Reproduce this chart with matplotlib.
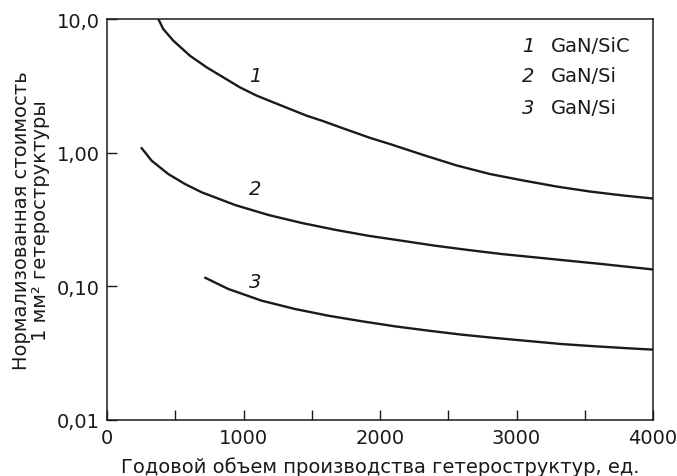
import matplotlib
matplotlib.use("Agg")
import matplotlib.pyplot as plt
from matplotlib.ticker import FixedLocator, NullLocator, FixedFormatter

plt.rcParams['font.family'] = ['DejaVu Sans']

# Curve 1: GaN/SiC
x1 = [376, 412, 486, 608, 730, 852, 974, 1097, 1218, 1341, 1463, 1585, 1707, 1829,
      1927, 2073, 2317, 2562, 2806, 3050, 3294, 3538, 3783, 4000]
y1 = [10.0, 8.42, 6.88, 5.31, 4.35, 3.66, 3.08, 2.67, 2.38, 2.12, 1.89, 1.72, 1.55, 1.40,
      1.29, 1.16, 0.961, 0.802, 0.692, 0.619, 0.558, 0.512, 0.478, 0.454]
# Curve 2: GaN/Si
x2 = [249, 327, 449, 571, 694, 938, 1182, 1426, 1670, 1914, 2159, 2403, 2647, 2892,
      3135, 3380, 3624, 4000]
y2 = [1.097, 0.871, 0.692, 0.583, 0.505, 0.406, 0.342, 0.298, 0.265, 0.239, 0.2195,
      0.2014, 0.187, 0.1744, 0.1648, 0.1555, 0.1469, 0.1337]
# Curve 3: GaN/Si
x3 = [713, 889, 1133, 1377, 1621, 1866, 2110, 2354, 2599, 2842, 3086, 3331, 3575,
      3819, 4000]
y3 = [0.1168, 0.0955, 0.0781, 0.0677, 0.0603, 0.0548, 0.0502, 0.0466, 0.0435,
      0.0411, 0.0390, 0.0370, 0.0356, 0.0344, 0.0336]

curve_ids = ["1", "2", "3"]
curve_names = ["GaN/SiC", "GaN/Si", "GaN/Si"]
label_x = [1084, 1084, 1084]
label_y = [3.77, 0.542, 0.108]

x_ticks = [0, 500, 1000, 1500, 2000, 2500, 3000, 3500, 4000]
x_tick_labels = ["0", "", "1000", "", "2000", "", "3000", "", "4000"]
y_ticks = [0.01, 0.1, 1.0, 10.0]
y_tick_labels = ["0,01", "0,10", "1,00", "10,0"]

INK = '#1a1a1a'
FS = 14

fig = plt.figure(figsize=(6.77, 4.77), dpi=100)
ax = fig.add_axes([107/677, 1 - 421/477, (653-107)/677, (421-20)/477])

for xs, ys in [(x1, y1), (x2, y2), (x3, y3)]:
    ax.plot(xs, ys, color=INK, lw=1.7, solid_capstyle='butt', solid_joinstyle='round')

ax.set_yscale('log')
ax.set_xlim(0, 4000)
ax.set_ylim(0.01, 10)

ax.xaxis.set_major_locator(FixedLocator(x_ticks))
ax.xaxis.set_major_formatter(FixedFormatter(x_tick_labels))
ax.xaxis.set_minor_locator(NullLocator())
ax.yaxis.set_major_locator(FixedLocator(y_ticks))
ax.yaxis.set_major_formatter(FixedFormatter(y_tick_labels))
ax.yaxis.set_minor_locator(NullLocator())

ax.tick_params(axis='both', direction='in', length=7, width=1.0, labelsize=FS,
               colors=INK)
ax.tick_params(axis='x', pad=6)
ax.tick_params(axis='y', pad=5)
for s in ax.spines.values():
    s.set_linewidth(1.1)
    s.set_color(INK)

ax.set_xlabel("Годовой объем производства гетероструктур, ед.", fontsize=FS,
              color=INK)
ax.xaxis.set_label_coords(0.5, (421 - 457) / 401)
ax.set_ylabel("Нормализованная стоимость\n1 мм² гетероструктуры", fontsize=FS,
              linespacing=1.0, color=INK)
ax.yaxis.set_label_coords((50 - 107) / 546, 0.5)

for cid, lx, ly in zip(curve_ids, label_x, label_y):
    ax.text(lx, ly, cid, fontsize=FS, style='italic', ha='center', va='center',
            color=INK)

leg_y = [46, 77, 108]
for cid, name, py in zip(curve_ids, curve_names, leg_y):
    yy = 1 - (py - 20) / (421 - 20)
    ax.text((528 - 107) / 546, yy, cid, transform=ax.transAxes, fontsize=FS,
            style='italic', ha='center', va='center', color=INK)
    ax.text((551 - 107) / 546, yy, name, transform=ax.transAxes, fontsize=FS,
            ha='left', va='center', color=INK)

fig.savefig("out.png", dpi=100)
